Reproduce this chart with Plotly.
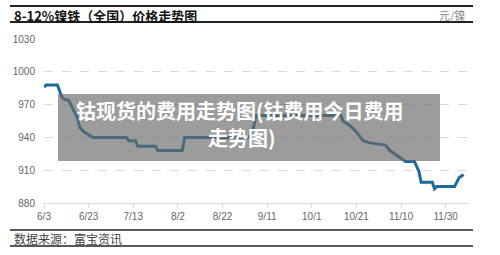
import plotly.graph_objects as go

# ---- data ----
dates = ["2020-06-03", "2020-06-04", "2020-06-09", "2020-06-11", "2020-06-12", "2020-06-14",
         "2020-06-16", "2020-06-18", "2020-06-19", "2020-06-21", "2020-06-24", "2020-06-25",
         "2020-07-10", "2020-07-11", "2020-07-14", "2020-07-15", "2020-07-23", "2020-07-24",
         "2020-08-04", "2020-08-05", "2020-09-03", "2020-09-05", "2020-09-06", "2020-10-14",
         "2020-10-15", "2020-10-18", "2020-10-21", "2020-10-24", "2020-10-27", "2020-11-03",
         "2020-11-05", "2020-11-07", "2020-11-10", "2020-11-12", "2020-11-16", "2020-11-18",
         "2020-11-19", "2020-11-24", "2020-11-25", "2020-11-26", "2020-12-04", "2020-12-06",
         "2020-12-08"]
prices = [986, 988, 988, 977, 975, 974,
          966, 958, 949, 945, 941, 940,
          940, 937, 937, 932, 932, 928,
          928, 940, 940, 950, 960, 960,
          955, 951, 945, 937, 935, 933,
          928, 925, 921, 918, 918, 909,
          899, 899, 893, 895, 895, 903,
          906]

x_tickvals = ["2020-06-03", "2020-06-23", "2020-07-13", "2020-08-02", "2020-08-22",
              "2020-09-11", "2020-10-01", "2020-10-21", "2020-11-10", "2020-11-30"]
x_ticktext = ["6/3", "6/23", "7/13", "8/2", "8/22", "9/11", "10/1", "10/21", "11/10", "11/30"]
y_tickvals = [880, 910, 940, 970, 1000, 1030]

chart_title = "8-12%镍铁（全国）价格走势图"
unit_text = "元/镍"
source_text = "数据来源：富宝资讯"
overlay_line1 = "钴现货的费用走势图(钴费用今日费用"
overlay_line2 = "走势图)"

# ---- layout geometry (pixels) ----
W, H = 500, 255
L, R, T, B = 44, 468, 39, 203


def px(x):
    return (x - L) / (R - L)


def py(y):
    return (B - y) / (B - T)


fig = go.Figure()
fig.add_trace(go.Scatter(
    x=dates, y=prices, mode="lines",
    line=dict(color="#1b6b9b", width=3),
    hoverinfo="skip", showlegend=False,
))

shapes = []
# header / footer rules
for yy, w in [(6, 2), (22, 2), (230, 1.5), (246, 1.5)]:
    shapes.append(dict(type="line", xref="paper", yref="paper",
                       x0=px(10), x1=px(473), y0=py(yy), y1=py(yy),
                       line=dict(color="#222222", width=w), layer="above"))
# overlay grey box
shapes.append(dict(type="rect", xref="paper", yref="paper",
                   x0=px(58), x1=px(440), y0=py(161), y1=py(94),
                   fillcolor="rgba(105,105,105,0.66)", line=dict(width=0), layer="above"))

annotations = [
    dict(text=chart_title, xref="paper", yref="paper", x=px(12), y=py(15),
         xanchor="left", yanchor="middle", showarrow=False,
         font=dict(family="Noto Sans CJK SC", size=13, color="#111111", weight="bold")),
    dict(text=unit_text, xref="paper", yref="paper", x=px(467), y=py(15),
         xanchor="right", yanchor="middle", showarrow=False,
         font=dict(family="Noto Sans CJK SC", size=11, color="#888888")),
    dict(text=source_text, xref="paper", yref="paper", x=px(12), y=py(238),
         xanchor="left", yanchor="middle", showarrow=False,
         font=dict(family="Noto Sans CJK SC", size=12, color="#444444")),
    dict(text=overlay_line1, xref="paper", yref="paper", x=px(240), y=py(110.5),
         xanchor="center", yanchor="middle", showarrow=False,
         font=dict(family="Noto Sans CJK SC", size=20, color="#ffffff", weight="bold")),
    dict(text=overlay_line2, xref="paper", yref="paper", x=px(242), y=py(137.5),
         xanchor="center", yanchor="middle", showarrow=False,
         font=dict(family="Noto Sans CJK SC", size=20, color="#ffffff", weight="bold")),
]

fig.update_layout(
    width=W, height=H,
    margin=dict(l=L, r=W - R, t=T, b=H - B, pad=0),
    paper_bgcolor="white", plot_bgcolor="white",
    shapes=shapes, annotations=annotations,
    font=dict(family="Liberation Sans", size=10, color="#666666"),
    xaxis=dict(
        type="date", range=["2020-06-03", "2020-12-10"],
        tickvals=x_tickvals, ticktext=x_ticktext,
        showgrid=False, zeroline=False,
        showline=True, linecolor="#d9d9d9", linewidth=1,
        ticks="outside", ticklen=4, tickcolor="#d9d9d9",
        tickfont=dict(size=10, color="#666666"),
        fixedrange=True,
    ),
    yaxis=dict(
        range=[880, 1030], tickvals=y_tickvals,
        showgrid=True, gridcolor="#d9d9d9", griddash="dash", gridwidth=1,
        zeroline=False, showline=False, ticks="",
        tickfont=dict(size=10, color="#666666"), ticklabelstandoff=8,
        fixedrange=True,
    ),
)

fig.write_html("out.html", config={"displayModeBar": False})
